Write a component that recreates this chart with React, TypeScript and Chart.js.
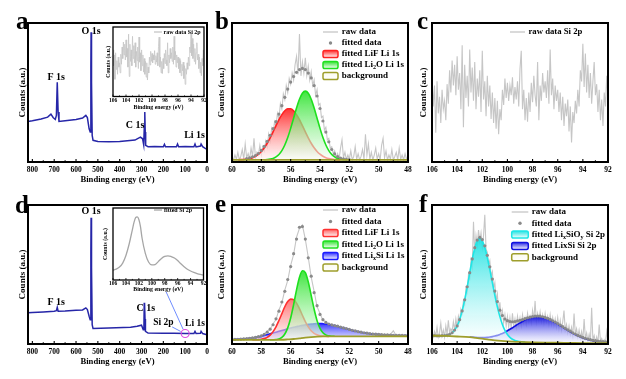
import React, { useEffect, useRef } from "react";
import { Chart, registerables } from "chart.js";

Chart.register(...registerables);

const SERIF = '"Liberation Serif", "Times New Roman", "DejaVu Serif", serif';
const SURVEY = "#2626a8";
const RAW = "#c6c6c6";
const DOT = "#8a8a8a";
const OLIVE = "#9e9e2c";

// ---------- axis positions / tick labels ----------
const grid = (start: number, step: number, n: number): number[] =>
  Array.from({ length: n }, (_, i) => Math.round((start - step * i) * 100) / 100);
const pts = (xs: number[], ys: number[]) => ys.map((y, i) => ({ x: xs[i], y }));

const surveyTicks = [800, 700, 600, 500, 400, 300, 200, 100, 0];
const surveyMinor = [750, 650, 550, 450, 350, 250, 150, 50];
const li1sTicks = [60, 58, 56, 54, 52, 50, 48];
const li1sMinor = [59, 57, 55, 53, 51, 49];
const si2pTicks = [106, 104, 102, 100, 98, 96, 94, 92];
const si2pMinor = [105, 103, 101, 99, 97, 95, 93];

// ---------- panel a : survey ----------
const aEnergy = [820, 800, 760, 730, 715, 705, 695, 690, 686, 682, 678, 650, 600, 570, 555, 548, 540, 535, 532, 531, 529, 526, 522, 500, 450, 400, 330, 305, 295, 290, 287, 285, 283, 281, 270, 240, 200, 195, 190, 140, 135, 130, 100, 60, 55, 50, 30, 27, 20, 10, 0];
const aCounts = [29.2, 29.7, 31, 32.3, 34.4, 32, 30.6, 33.5, 57.4, 35.9, 29.2, 29.7, 30.6, 31.6, 33.5, 32, 23.9, 21.5, 69, 93.3, 57.4, 19.1, 15.6, 14.8, 14.6, 14.8, 15.8, 17.9, 16.7, 12.4, 26.3, 35.9, 21.5, 12, 11, 11.2, 11, 12.7, 11, 11, 12.9, 11, 11.1, 11, 12.9, 10.8, 11.5, 12.9, 11, 10, 9.1];

// ---------- panel d : survey ----------
const dEnergy = [820, 800, 750, 700, 690, 686, 682, 650, 600, 570, 555, 548, 540, 535, 532, 531, 529, 526, 522, 450, 350, 320, 300, 292, 289, 287.5, 286.5, 285.5, 284, 282, 270, 200, 150, 100, 60, 55, 50, 30, 27, 20, 0];
const dCounts = [22.4, 22.6, 23.1, 23.6, 24, 26.4, 23.6, 23.8, 24.3, 24.5, 26, 24.8, 20, 17.5, 66.8, 90.9, 54.8, 13.9, 11.1, 11.5, 12, 12.7, 13.5, 10.3, 12, 29.6, 21, 29, 18, 9.1, 7.9, 7.7, 7.7, 7.5, 7.5, 9.1, 7.5, 7.7, 9.1, 7.5, 6.7];

// ---------- inset d : fitted Si 2p ----------
const insetDEnergy = [106, 105.5, 105, 104.5, 104, 103.5, 103, 102.75, 102.5, 102.25, 102, 101.75, 101.5, 101, 100.5, 100, 99.5, 99, 98.5, 98, 97.5, 97, 96.5, 96, 95.5, 95, 94.5, 94, 93.5, 93, 92.5, 92];
const insetDFit = [13.8, 15.2, 18, 23.5, 34, 50, 70, 80, 86.5, 87.6, 84, 74, 58, 37, 25, 21, 21.5, 25.5, 30, 32.8, 33.6, 32.5, 30.5, 27, 22.5, 18.5, 15, 12.5, 10.5, 9, 7.8, 6.9];

// ---------- panel c (and inset a) : raw Si 2p, 106 -> 92 eV every 0.1 eV ----------
const cRaw = [
  62, 40, 55, 21, 58, 35, 47, 28, 52, 38,
  44, 30, 56, 42, 66, 50, 73, 55, 70, 48,
  76, 52, 64, 38, 84, 25, 70, 46, 62, 40,
  81, 50, 68, 44, 72, 38, 60, 47, 66, 36,
  80, 45, 58, 33, 62, 40, 55, 31, 50, 28,
  46, 24, 44, 20, 38, 30, 52, 41, 60, 46,
  57, 44, 55, 48, 61, 42, 54, 45, 58, 40,
  67, 80, 38, 52, 30, 46, 29, 50, 36, 57,
  43, 62, 48, 40, 72, 30, 55, 44, 64, 50,
  58, 46, 66, 42, 81, 48, 60, 38, 55, 44,
  52, 36, 50, 30, 47, 26, 42, 33, 45, 22,
  40, 14, 36, 28, 44, 35, 52, 40, 66, 58,
  85, 54, 78, 50, 70, 46, 64, 42, 58, 72,
  48, 56, 36, 52, 30, 45, 26, 50, 40, 62,
  45,
];

// ---------- panel b : Li 1s ----------
const bRaw = [
  3, 1.5, 5, 2, 7, 1.5, 4, 9, 2, 13,
  3, 6, 2, 10, 4, 17, 3, 7, 5, 12,
  5, 11, 8, 15, 11, 20, 15, 24, 20, 29,
  26, 35, 31, 42, 38, 49, 45, 55, 50, 60,
  56, 64, 59, 70, 76, 63, 92, 62, 72, 64,
  75, 62, 69, 59, 65, 55, 59, 48, 52, 41,
  42, 32, 33, 23, 25, 16, 17, 10, 11, 6,
  8, 3, 6, 2, 10, 16, 3, 7, 1.5, 5,
  2, 8, 1.5, 4, 11, 2, 6, 1.5, 4, 9,
  2, 20, 5, 13, 2, 7, 1.5, 5, 10, 2,
  6, 1.5, 12, 17, 3, 8, 1.5, 5, 2, 9,
  1.5, 4, 7, 1.5, 10, 2, 5, 1.5, 6, 2,
  4,
];
const bFitStart = 59.0;
const bFit = [2.5, 3.0, 3.7, 4.6, 6.1, 8.3, 11.2, 14.8, 19.2, 24.0, 29.0, 34.5, 40.5, 46.5, 52.5, 57.5, 61.5, 64.5, 66.5, 67.3, 66.5, 64.0, 60.5, 55.0, 47.5, 38.5, 29.5, 21.5, 14.5, 9.0, 5.8, 3.8, 2.8, 2.2, 1.9, 1.8];
const bLiFStart = 59.6;
const bLiF = [1.6, 1.7, 1.8, 2.1, 2.5, 3.1, 4.1, 5.6, 7.6, 10.2, 13.5, 17.4, 21.7, 26.2, 30.5, 34.1, 36.9, 38.3, 38.3, 36.9, 34.1, 30.5, 26.2, 21.7, 17.4, 13.5, 10.2, 7.6, 5.6, 4.1, 3.1, 2.5, 2.1, 1.8, 1.7, 1.6];
const bLi2OStart = 57.8;
const bLi2O = [1.6, 1.75, 2.05, 2.6, 3.7, 5.4, 8.2, 12.2, 17.6, 24.2, 31.5, 38.9, 45.2, 49.5, 51.0, 49.5, 45.2, 38.9, 31.5, 24.2, 17.6, 12.2, 8.2, 5.4, 3.7, 2.6, 2.05, 1.75, 1.6];
const bBgEnergy = [60, 48];
const bBg = [1.5, 1.5];

// ---------- panel e : Li 1s ----------
const eRaw = [
  3.5, 2.8, 3.9, 3.1, 4.2, 3.5, 4.6, 4.0, 5.3, 4.9,
  6.5, 6.8, 9.2, 10.3, 14.6, 17.6, 24.5, 29.6, 38.8, 45.8,
  56.6, 64.3, 76.8, 83.2, 85.6, 75.2, 62.4, 48.1, 37.8, 26.9,
  21.9, 17.0, 16.1, 13.9, 14.2, 12.7, 13.3, 11.8, 12.1, 10.6,
  11.0, 9.5, 9.9, 8.5, 9.0, 7.7, 8.3, 7.0, 7.8, 6.6,
  7.4, 6.4, 7.0, 6.2, 6.9, 9.5, 6.0, 6.6, 5.9, 6.5,
  6.0,
];
const eFit = [
  3.2, 3.3, 3.4, 3.5, 3.65, 3.8, 4.1, 4.4, 4.75, 5.25,
  5.9, 7.0, 8.5, 10.7, 13.85, 18.1, 23.6, 30.2, 37.9, 46.4,
  55.7, 65.0, 75.5, 84.0, 84.5, 75.5, 62.0, 48.8, 36.9, 27.6,
  21.3, 17.5, 15.5, 14.4, 13.7, 13.2, 12.8, 12.2, 11.6, 11.1,
  10.5, 9.9, 9.4, 8.9, 8.5, 8.1, 7.8, 7.5, 7.2, 7.05,
  6.9, 6.8, 6.65, 6.55, 6.4, 6.3, 6.25, 6.2, 6.15, 6.1,
  6.1,
];
const eLiFStart = 58.6;
const eLiF = [3.0, 3.05, 3.15, 3.4, 3.9, 4.8, 6.4, 8.9, 12.4, 16.9, 21.85, 26.8, 30.5, 32.3, 31.9, 29.4, 25.4, 20.7, 16.1, 12.3, 9.5, 7.7, 6.6, 6.0, 5.7, 5.6, 5.5];
const eLi2OStart = 57.4;
const eLi2O = [3.0, 3.05, 3.2, 3.6, 4.75, 7.2, 11.6, 18.7, 28.3, 38.9, 48.0, 52.7, 51.4, 44.7, 34.9, 25.0, 16.8, 11.3, 8.1, 6.55, 5.9, 5.6, 5.55];
const eLixSi = [
  3.2, 3.3, 3.4, 3.5, 3.65, 3.8, 4.05, 4.35, 4.7, 5.1,
  5.5, 6.1, 6.7, 7.3, 7.9, 8.5, 9.1, 9.7, 10.3, 10.9,
  11.5, 12.0, 12.5, 13.0, 13.4, 13.8, 14.1, 14.4, 14.6, 14.75,
  14.8, 14.6, 14.35, 14.0, 13.6, 13.2, 12.7, 12.1, 11.5, 11.0,
  10.4, 9.8, 9.3, 8.8, 8.4, 8.0, 7.7, 7.4, 7.1, 6.95,
  6.8, 6.7, 6.55, 6.45, 6.3, 6.2, 6.15, 6.1, 6.05, 6.0,
  6.0,
];
const eBgEnergy = [60, 57, 56.6, 56.2, 55.8, 55.4, 55.0, 54.6, 54.2, 53.8, 53.4, 48];
const eBg = [3.0, 3.0, 3.05, 3.3, 3.6, 4.1, 4.6, 5.0, 5.3, 5.45, 5.5, 5.5];

// ---------- panel f : Si 2p ----------
const fRaw = [
  7, 5, 9, 6, 12, 5, 8, 15, 6, 10,
  5, 13, 7, 17, 8, 11, 9, 16, 10, 18,
  12, 20, 16, 25, 22, 31, 28, 40, 37, 50,
  47, 60, 55, 88, 66, 78, 71, 82, 74, 80,
  70, 78, 93, 68, 66, 57, 60, 49, 52, 40,
  44, 31, 36, 22, 30, 19, 24, 15, 21, 13,
  20, 12, 19, 11, 22, 13, 18, 12, 20, 14,
  19, 13, 21, 15, 19, 14, 22, 16, 20, 15,
  24, 17, 31, 16, 22, 17, 23, 16, 21, 15,
  22, 16, 20, 14, 21, 14, 19, 13, 18, 12,
  19, 11, 17, 10, 16, 24, 10, 14, 8, 13,
  7, 12, 6, 22, 7, 11, 5, 10, 4, 9,
  3, 18, 4, 8, 2, 7, 2, 26, 3, 6,
  1, 5, 1, 14, 2, 4, 1, 3, 1, 9,
  2,
];
const fFit = [
  6.0, 6.0, 5.9, 5.9, 6.0, 6.1, 6.4, 7.0, 8.1, 10.0,
  13.0, 17.5, 23.8, 31.8, 41.2, 51.3, 61.2, 69.3, 74.8, 76.7,
  75.1, 70.6, 63.8, 55.5, 46.7, 38.1, 30.5, 24.3, 20.5, 18.0,
  16.8, 16.2, 16.0, 16.2, 16.6, 17.0, 17.6, 18.2, 18.8, 19.3,
  19.7, 20.0, 20.1, 20.0, 19.6, 19.1, 18.5, 17.7, 16.7, 15.8,
  14.7, 13.6, 12.5, 11.3, 10.2, 9.2, 8.1, 7.2, 6.2, 5.5,
  4.8, 4.1, 3.6, 3.1, 2.7, 2.4, 2.1, 1.9, 1.7, 1.6,
  1.5,
];
const fLixSiOyStart = 105.2;
const fLixSiOy = [5.9, 6.1, 6.4, 7.0, 8.1, 10.0, 13.0, 17.5, 23.8, 31.7, 41.1, 51.1, 60.9, 68.9, 74.3, 76.0, 74.2, 69.4, 62.2, 53.5, 44.2, 35.0, 26.7, 19.7, 14.1, 9.8, 6.8, 4.8, 3.4, 2.6, 2.1, 1.7, 1.6, 1.4];
const fLixSiStart = 103.0;
const fLixSi = [
  5.1, 5.0, 4.9, 4.7, 4.7, 4.7, 4.7, 4.8, 5.0, 5.3,
  5.7, 6.2, 6.9, 7.6, 8.5, 9.5, 10.6, 11.7, 12.9, 14.1,
  15.2, 16.2, 17.3, 18.1, 18.8, 19.2, 19.6, 19.6, 19.5, 19.1,
  18.7, 18.1, 17.3, 16.3, 15.4, 14.3, 13.2, 12.1, 10.9, 9.8,
  8.8, 7.7, 6.8, 5.8, 5.1, 4.4, 3.7, 3.2, 2.7, 2.3,
  2.0, 1.7, 1.5, 1.3, 1.2, 1.1,
];
const fBgEnergy = [106, 105, 104, 103, 102.5, 102, 101.5, 101, 100.5, 100, 99, 98, 97, 96, 95, 94, 92];
const fBg = [6.0, 5.8, 5.4, 4.9, 4.4, 3.8, 3.1, 2.6, 2.2, 1.9, 1.5, 1.2, 1.0, 0.9, 0.8, 0.7, 0.7];

// ---------- helpers ----------
type Item = { kind: "line" | "dot" | "box"; color: string; fill?: string; text: string };
type Label = { text: string; e: number; v: number; dx?: number; dy?: number; align?: CanvasTextAlign; size?: number };
type Spec = {
  W: number; H: number;
  area: { l: number; t: number; r: number; b: number };
  xMin: number; xMax: number; ticks: number[]; minor: number[];
  yMin: number; yMax: number;
  datasets: any[];
  tickFont: number; tickPad: number;
  titleFont: number; titlePadBottom: number;
  yTitleFont: number; yTitlePad: number;
  frame: number; tickLen: number;
  legend?: { x: number; y: number; dy: number; w: number; h: number; gap: number; font: number; items: Item[] };
  letter?: { text: string; x: number; y: number };
  labels?: Label[];
  extra?: (chart: any) => void;
};

function gradFill(rgb: string, peak: number, a0: number, a1: number) {
  return (c: any) => {
    const chart = c.chart;
    const area = chart.chartArea;
    if (!area || !chart.scales || !chart.scales.y) return `rgba(${rgb},${a0 * 0.6})`;
    const top = chart.scales.y.getPixelForValue(peak);
    const g = chart.ctx.createLinearGradient(0, top, 0, area.bottom);
    g.addColorStop(0, `rgba(${rgb},${a0})`);
    g.addColorStop(1, `rgba(255,255,255,${a1})`);
    return g;
  };
}

const surveyDs = (xs: number[], ys: number[]) => ({
  data: pts(xs, ys), borderColor: SURVEY, borderWidth: 1.5, pointRadius: 0, fill: false, tension: 0,
});
const rawDs = (xs: number[], ys: number[], width: number, order: number) => ({
  data: pts(xs, ys), borderColor: RAW, borderWidth: width, pointRadius: 0, fill: false, tension: 0, order,
});
const dotDs = (xs: number[], ys: number[], order: number) => ({
  data: pts(xs, ys), showLine: false, pointRadius: 1.6, pointBackgroundColor: DOT, pointBorderWidth: 0,
  pointBorderColor: "rgba(0,0,0,0)", fill: false, order,
});
const bgDs = (xs: number[], ys: number[], order: number) => ({
  data: pts(xs, ys), borderColor: OLIVE, borderWidth: 1.8, pointRadius: 0, fill: false, order,
  cubicInterpolationMode: "monotone",
});
const compDs = (xs: number[], ys: number[], line: string, rgb: string, order: number, a0: number, a1: number) => ({
  data: pts(xs, ys), borderColor: line, borderWidth: 1.6, pointRadius: 0, order,
  cubicInterpolationMode: "monotone", fill: 0,
  backgroundColor: gradFill(rgb, Math.max(...ys), a0, a1),
});

function drawRich(ctx: CanvasRenderingContext2D, text: string, x: number, y: number, size: number) {
  const re = /_\{([^}]*)\}/g;
  const parts: [string, boolean][] = [];
  let last = 0;
  let m: RegExpExecArray | null;
  while ((m = re.exec(text))) {
    if (m.index > last) parts.push([text.slice(last, m.index), false]);
    parts.push([m[1], true]);
    last = re.lastIndex;
  }
  if (last < text.length) parts.push([text.slice(last), false]);
  let cx = x;
  for (const [s, sub] of parts) {
    const fs = sub ? size * 0.68 : size;
    ctx.font = `bold ${fs}px ${SERIF}`;
    ctx.fillText(s, cx, sub ? y + size * 0.28 : y);
    cx += ctx.measureText(s).width;
  }
}

function rr(ctx: CanvasRenderingContext2D, x: number, y: number, w: number, h: number, r: number) {
  ctx.beginPath();
  ctx.moveTo(x + r, y);
  ctx.lineTo(x + w - r, y);
  ctx.quadraticCurveTo(x + w, y, x + w, y + r);
  ctx.lineTo(x + w, y + h - r);
  ctx.quadraticCurveTo(x + w, y + h, x + w - r, y + h);
  ctx.lineTo(x + r, y + h);
  ctx.quadraticCurveTo(x, y + h, x, y + h - r);
  ctx.lineTo(x, y + r);
  ctx.quadraticCurveTo(x, y, x + r, y);
  ctx.closePath();
}

function buildConfig(s: Spec): any {
  const deco = {
    id: "deco",
    afterDatasetsDraw(chart: any) {
      const ctx: CanvasRenderingContext2D = chart.ctx;
      const a = chart.chartArea;
      const xs = chart.scales.x;
      const ys = chart.scales.y;
      ctx.save();
      // frame
      ctx.strokeStyle = "#000";
      ctx.lineWidth = s.frame;
      ctx.strokeRect(a.left, a.top, a.right - a.left, a.bottom - a.top);
      // inward ticks
      ctx.lineWidth = Math.max(0.8, s.frame * 0.55);
      ctx.beginPath();
      for (const v of s.ticks) {
        const p = xs.getPixelForValue(v);
        ctx.moveTo(p, a.bottom);
        ctx.lineTo(p, a.bottom - s.tickLen);
      }
      for (const v of s.minor) {
        const p = xs.getPixelForValue(v);
        ctx.moveTo(p, a.bottom);
        ctx.lineTo(p, a.bottom - s.tickLen * 0.55);
      }
      ctx.stroke();
      // legend
      if (s.legend) {
        const L = s.legend;
        L.items.forEach((it, i) => {
          const y = L.y + i * L.dy;
          if (it.kind === "line") {
            ctx.strokeStyle = it.color;
            ctx.lineWidth = 1.3;
            ctx.beginPath();
            ctx.moveTo(L.x, y);
            ctx.lineTo(L.x + L.w, y);
            ctx.stroke();
          } else if (it.kind === "dot") {
            ctx.fillStyle = it.color;
            ctx.beginPath();
            ctx.arc(L.x + L.w / 2, y, 1.7, 0, Math.PI * 2);
            ctx.fill();
          } else {
            const g = ctx.createLinearGradient(0, y - L.h / 2, 0, y + L.h / 2);
            g.addColorStop(0, it.fill || "#fff");
            g.addColorStop(1, "#ffffff");
            rr(ctx, L.x, y - L.h / 2, L.w, L.h, 1.8);
            ctx.fillStyle = g;
            ctx.fill();
            ctx.strokeStyle = it.color;
            ctx.lineWidth = 1.5;
            ctx.stroke();
          }
          ctx.fillStyle = "#000";
          ctx.textBaseline = "middle";
          ctx.textAlign = "left";
          drawRich(ctx, it.text, L.x + L.w + L.gap, y, L.font);
        });
      }
      // peak labels
      if (s.labels) {
        for (const lb of s.labels) {
          ctx.font = `bold ${lb.size || 10}px ${SERIF}`;
          ctx.fillStyle = "#000";
          ctx.textAlign = lb.align || "center";
          ctx.textBaseline = "alphabetic";
          ctx.fillText(lb.text, xs.getPixelForValue(lb.e) + (lb.dx || 0), ys.getPixelForValue(lb.v) + (lb.dy || 0));
        }
      }
      if (s.extra) s.extra(chart);
      // panel letter
      if (s.letter) {
        ctx.font = `bold 25px ${SERIF}`;
        ctx.fillStyle = "#000";
        ctx.textAlign = "left";
        ctx.textBaseline = "alphabetic";
        ctx.fillText(s.letter.text, s.letter.x, s.letter.y);
      }
      ctx.restore();
    },
  };

  return {
    type: "line",
    data: { datasets: s.datasets },
    options: {
      responsive: false,
      animation: false,
      devicePixelRatio: 1,
      events: [],
      layout: { padding: { left: 0, top: s.area.t, right: s.W - s.area.r, bottom: 0 } },
      plugins: { legend: { display: false }, tooltip: { enabled: false } },
      scales: {
        x: {
          type: "linear",
          min: s.xMin,
          max: s.xMax,
          reverse: true,
          grid: { display: false, drawTicks: false },
          border: { display: false },
          afterBuildTicks: (sc: any) => {
            sc.ticks = s.ticks.map((v) => ({ value: v }));
          },
          afterFit: (sc: any) => {
            sc.height = s.H - s.area.b;
            sc.paddingLeft = 0;
            sc.paddingRight = 0;
          },
          ticks: {
            autoSkip: false,
            maxRotation: 0,
            padding: s.tickPad,
            color: "#000",
            font: { family: SERIF, size: s.tickFont, weight: "bold" },
          },
          title: {
            display: true,
            text: "Binding energy (eV)",
            color: "#000",
            font: { family: SERIF, size: s.titleFont, weight: "bold" },
            padding: { top: 0, bottom: s.titlePadBottom },
          },
        },
        y: {
          type: "linear",
          min: s.yMin,
          max: s.yMax,
          grid: { display: false, drawTicks: false },
          border: { display: false },
          ticks: { display: false },
          afterFit: (sc: any) => {
            sc.width = s.area.l;
          },
          title: {
            display: true,
            text: "Counts (a.u.)",
            color: "#000",
            font: { family: SERIF, size: s.yTitleFont, weight: "bold" },
            padding: { top: s.yTitlePad, bottom: 0 },
          },
        },
      },
    },
    plugins: [deco],
  };
}

// ---------- panel specs ----------
const mainCommon = {
  tickFont: 7.5, tickPad: 3.5, titleFont: 8.6, yTitleFont: 9, frame: 2, tickLen: 3, yMin: 0, yMax: 100,
};

function specA(): Spec {
  return {
    ...mainCommon,
    W: 214, H: 190, area: { l: 28, t: 23, r: 207, b: 162 },
    xMin: 0, xMax: 820, ticks: surveyTicks, minor: surveyMinor,
    titlePadBottom: 4.8, yTitlePad: 17.6,
    datasets: [surveyDs(aEnergy, aCounts)],
    letter: { text: "a", x: 16, y: 29 },
    labels: [
      { text: "F 1s", e: 686, v: 57.4, dx: -1, dy: -2 },
      { text: "O 1s", e: 531, v: 93.3, dy: 2 },
      { text: "C 1s", e: 330, v: 24.5 },
      { text: "Li 1s", e: 57, v: 17 },
    ],
  };
}

function specD(): Spec {
  return {
    ...mainCommon,
    W: 214, H: 197, area: { l: 28, t: 23, r: 207, b: 162 },
    xMin: 0, xMax: 820, ticks: surveyTicks, minor: surveyMinor,
    titlePadBottom: 11.9, yTitlePad: 17.6,
    datasets: [surveyDs(dEnergy, dCounts)],
    letter: { text: "d", x: 15, y: 31 },
    labels: [
      { text: "F 1s", e: 686, v: 26.4, dx: -1, dy: -2 },
      { text: "O 1s", e: 531, v: 90.9, dy: -4 },
      { text: "C 1s", e: 285, v: 29.6, dx: 1, dy: 8 },
      { text: "Si 2p", e: 200, v: 14, size: 9.5 },
      { text: "Li 1s", e: 55, v: 13.3, size: 9.5 },
    ],
    extra: (chart: any) => {
      const ctx: CanvasRenderingContext2D = chart.ctx;
      const cx = chart.scales.x.getPixelForValue(100);
      const cy = chart.scales.y.getPixelForValue(7.6);
      ctx.strokeStyle = "#6e8cff";
      ctx.lineWidth = 1;
      ctx.beginPath();
      ctx.moveTo(cx - 2, cy - 4);
      ctx.lineTo(cx - 19, cy - 41.5);
      ctx.moveTo(cx - 13, cy - 6.5);
      ctx.lineTo(cx - 4.5, cy - 2);
      ctx.stroke();
      ctx.strokeStyle = "#e04ce0";
      ctx.lineWidth = 1.1;
      ctx.beginPath();
      ctx.arc(cx, cy, 4, 0, Math.PI * 2);
      ctx.stroke();
    },
  };
}

function specB(): Spec {
  const rawE = grid(60, 0.1, bRaw.length);
  return {
    ...mainCommon,
    W: 210, H: 190, area: { l: 27, t: 23, r: 203, b: 162 },
    xMin: 48, xMax: 60, ticks: li1sTicks, minor: li1sMinor,
    titlePadBottom: 4.8, yTitlePad: 11.3,
    datasets: [
      bgDs(bBgEnergy, bBg, 0),
      dotDs(grid(bFitStart, 0.2, bFit.length), bFit, 1),
      compDs(grid(bLi2OStart, 0.2, bLi2O.length), bLi2O, "#1ee01e", "30,225,30", 2, 0.85, 0.55),
      compDs(grid(bLiFStart, 0.2, bLiF.length), bLiF, "#ff2222", "255,30,30", 3, 0.9, 0.6),
      rawDs(rawE, bRaw, 1.1, 5),
    ],
    letter: { text: "b", x: 10, y: 29 },
    legend: {
      x: 118, y: 32, dy: 11, w: 15, h: 7, gap: 3.7, font: 9,
      items: [
        { kind: "line", color: RAW, text: "raw data" },
        { kind: "dot", color: DOT, text: "fitted data" },
        { kind: "box", color: "#ff2222", fill: "rgba(255,30,30,0.9)", text: "fitted LiF Li 1s" },
        { kind: "box", color: "#1ee01e", fill: "rgba(30,225,30,0.9)", text: "fitted Li_{2}O Li 1s" },
        { kind: "box", color: OLIVE, fill: "#fbfbee", text: "background" },
      ],
    },
  };
}

function specE(): Spec {
  const g2 = grid(60, 0.2, 61);
  return {
    ...mainCommon,
    W: 210, H: 197, area: { l: 27, t: 23, r: 203, b: 162 },
    xMin: 48, xMax: 60, ticks: li1sTicks, minor: li1sMinor,
    titlePadBottom: 11.9, yTitlePad: 11.3,
    datasets: [
      bgDs(eBgEnergy, eBg, 0),
      dotDs(g2, eFit, 1),
      compDs(grid(eLi2OStart, 0.2, eLi2O.length), eLi2O, "#1ee01e", "30,225,30", 2, 0.85, 0.55),
      compDs(grid(eLiFStart, 0.2, eLiF.length), eLiF, "#ff3030", "255,60,60", 3, 0.7, 0.55),
      compDs(g2, eLixSi, "#1a1aff", "30,30,255", 4, 0.9, 0.55),
      rawDs(g2, eRaw, 1.1, 5),
    ],
    letter: { text: "e", x: 10, y: 29.7 },
    legend: {
      x: 118, y: 28, dy: 11.5, w: 15, h: 7, gap: 3.7, font: 9,
      items: [
        { kind: "line", color: RAW, text: "raw data" },
        { kind: "dot", color: DOT, text: "fitted data" },
        { kind: "box", color: "#ff3030", fill: "rgba(255,60,60,0.75)", text: "fitted LiF Li 1s" },
        { kind: "box", color: "#1ee01e", fill: "rgba(30,225,30,0.9)", text: "fitted Li_{2}O Li 1s" },
        { kind: "box", color: "#1a1aff", fill: "rgba(30,30,255,0.9)", text: "fitted Li_{x}Si Li 1s" },
        { kind: "box", color: OLIVE, fill: "#fbfbee", text: "background" },
      ],
    },
  };
}

function specC(): Spec {
  return {
    ...mainCommon,
    W: 216, H: 190, area: { l: 22, t: 23, r: 198, b: 162 },
    xMin: 92, xMax: 106, ticks: si2pTicks, minor: si2pMinor,
    titlePadBottom: 4.8, yTitlePad: 8.1,
    datasets: [rawDs(grid(106, 0.1, cRaw.length), cRaw, 1.1, 5)],
    letter: { text: "c", x: 7, y: 29 },
    legend: {
      x: 100, y: 32, dy: 11, w: 15, h: 7, gap: 3.5, font: 8.7,
      items: [{ kind: "line", color: RAW, text: "raw data Si 2p" }],
    },
  };
}

function specF(): Spec {
  return {
    ...mainCommon,
    W: 216, H: 197, area: { l: 22, t: 23, r: 198, b: 162 },
    xMin: 92, xMax: 106, ticks: si2pTicks, minor: si2pMinor,
    titlePadBottom: 11.9, yTitlePad: 8.6,
    datasets: [
      bgDs(fBgEnergy, fBg, 0),
      dotDs(grid(106, 0.2, fFit.length), fFit, 1),
      compDs(grid(fLixSiOyStart, 0.2, fLixSiOy.length), fLixSiOy, "#1ee6e6", "20,225,225", 2, 0.9, 0.5),
      compDs(grid(fLixSiStart, 0.2, fLixSi.length), fLixSi, "#1010e0", "20,20,225", 3, 0.95, 0.5),
      rawDs(grid(106, 0.1, fRaw.length), fRaw, 1.1, 5),
    ],
    letter: { text: "f", x: 9, y: 29.7 },
    legend: {
      x: 101.7, y: 30, dy: 11.3, w: 16.6, h: 7, gap: 3.4, font: 9,
      items: [
        { kind: "line", color: RAW, text: "raw data" },
        { kind: "dot", color: DOT, text: "fitted data" },
        { kind: "box", color: "#1ee6e6", fill: "rgba(20,225,225,0.9)", text: "fitted Li_{x}SiO_{y} Si 2p" },
        { kind: "box", color: "#1010e0", fill: "rgba(20,20,225,0.9)", text: "fitted LixSi Si 2p" },
        { kind: "box", color: OLIVE, fill: "#fbfbee", text: "background" },
      ],
    },
  };
}

const insetCommon = {
  tickFont: 5.5, titleFont: 5.8, yTitleFont: 5.8, frame: 1.3, tickLen: 2,
};

function specInsetA(): Spec {
  return {
    ...insetCommon,
    W: 110, H: 88, area: { l: 13, t: 3, r: 104, b: 72.5 },
    xMin: 92, xMax: 106, ticks: si2pTicks, minor: si2pMinor,
    yMin: -3, yMax: 94,
    tickPad: 0.9, titlePadBottom: 1.2, yTitlePad: 4.8,
    datasets: [rawDs(grid(106, 0.1, cRaw.length), cRaw, 0.8, 5)],
    legend: {
      x: 54, y: 8, dy: 8, w: 8, h: 4, gap: 1.5, font: 6,
      items: [{ kind: "line", color: RAW, text: "raw data Si 2p" }],
    },
  };
}

function specInsetD(): Spec {
  return {
    ...insetCommon,
    W: 110, H: 90, area: { l: 13, t: 4, r: 103.5, b: 76 },
    xMin: 92, xMax: 106, ticks: si2pTicks, minor: si2pMinor,
    yMin: 0, yMax: 100,
    tickPad: 0.7, titlePadBottom: 1.2, yTitlePad: 2.5,
    datasets: [
      {
        data: pts(insetDEnergy, insetDFit), borderColor: "#a6a6a6", borderWidth: 1.3, pointRadius: 0,
        fill: false, cubicInterpolationMode: "monotone",
      },
    ],
    legend: {
      x: 54, y: 6, dy: 8, w: 8, h: 4, gap: 2, font: 6,
      items: [{ kind: "line", color: "#a6a6a6", text: "fitted Si 2p" }],
    },
  };
}

const PANELS: { key: string; left: number; top: number; make: () => Spec }[] = [
  { key: "a", left: 0, top: 0, make: specA },
  { key: "b", left: 205, top: 0, make: specB },
  { key: "c", left: 410, top: 0, make: specC },
  { key: "d", left: 0, top: 182, make: specD },
  { key: "e", left: 205, top: 182, make: specE },
  { key: "f", left: 410, top: 182, make: specF },
  { key: "ia", left: 100, top: 24, make: specInsetA },
  { key: "id", left: 100, top: 204, make: specInsetD },
];

function Panel({ left, top, make }: { left: number; top: number; make: () => Spec }) {
  const ref = useRef<HTMLCanvasElement>(null);
  const spec = make();
  useEffect(() => {
    const s = make();
    const chart = new Chart(ref.current as HTMLCanvasElement, buildConfig(s));
    return () => chart.destroy();
  }, []);
  return (
    <canvas
      ref={ref}
      width={spec.W}
      height={spec.H}
      style={{ position: "absolute", left, top, width: spec.W, height: spec.H }}
    />
  );
}

export default function App() {
  return (
    <div style={{ position: "absolute", left: 0, top: 0, width: 626, height: 379, background: "#fff", overflow: "hidden" }}>
      {PANELS.map((p) => (
        <Panel key={p.key} left={p.left} top={p.top} make={p.make} />
      ))}
    </div>
  );
}
